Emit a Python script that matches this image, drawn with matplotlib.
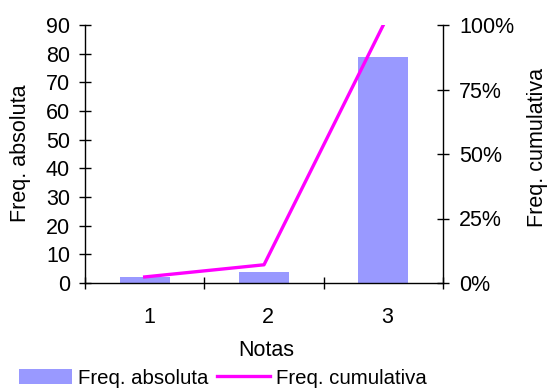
import matplotlib
matplotlib.use("Agg")
import matplotlib.pyplot as plt
from matplotlib.patches import Patch
from matplotlib.lines import Line2D
from matplotlib.ticker import FuncFormatter

plt.rcParams['font.family'] = ['Liberation Sans', 'DejaVu Sans']

notas = ["1", "2", "3"]
freq_absoluta = [2, 4, 79]
freq_cumulativa = [2.35, 7.06, 100.0]

bar_color = "#9999FF"
line_color = "#FF00FF"
fs = 15.5
legend_fs = 14.7

fig = plt.figure(figsize=(5.47, 3.88), dpi=100)
ax = fig.add_axes([85/547, 1 - 283/388, (443-85)/547, (283-25)/388])

x = list(range(len(notas)))
ax.bar(x, freq_absoluta, width=0.42, color=bar_color, zorder=2)
ax.set_xlim(-0.5, len(notas) - 0.5)
ax.set_ylim(0, 90)
ax.set_yticks(range(0, 91, 10))
# category boundaries carry the tick marks, labels sit between them
ax.set_xticks([i - 0.5 for i in range(len(notas) + 1)])
ax.set_xticklabels([])
ax.set_xticks([i + 0.035 for i in x], minor=True)
ax.set_xticklabels(notas, minor=True)
ax.tick_params(axis='x', which='major', direction='inout', length=8, width=1)
ax.tick_params(axis='x', which='minor', length=0, labelsize=fs, pad=17)
ax.tick_params(axis='y', direction='inout', length=8.5, width=1, labelsize=fs, pad=6.5)
for s in ('left', 'bottom'):
    ax.spines[s].set_linewidth(1)
ax.spines['top'].set_visible(False)
ax.spines['right'].set_visible(False)
ax.set_ylabel("Freq. absoluta", fontsize=fs)
ax.yaxis.set_label_coords(-0.152, 0.504)
ax.set_xlabel("Notas", fontsize=fs)
ax.xaxis.set_label_coords(0.506, -0.222)

ax2 = ax.twinx()
ax2.plot(x, freq_cumulativa, color=line_color, lw=2.4, zorder=3)
ax2.set_ylim(0, 100)
ax2.set_yticks([0, 25, 50, 75, 100])
ax2.yaxis.set_major_formatter(FuncFormatter(lambda v, p: f"{v:.0f}%"))
ax2.tick_params(axis='y', direction='inout', length=8.5, width=1, labelsize=fs, pad=7.5)
ax2.spines['right'].set_linewidth(1)
ax2.spines['top'].set_visible(False)
ax2.spines['left'].set_visible(False)
ax2.spines['bottom'].set_visible(False)
ax2.set_ylabel("Freq. cumulativa", fontsize=fs)
ax2.yaxis.set_label_coords(1.236, 0.527)
ax2.set_xlim(-0.5, len(notas) - 0.5)

handles = [Patch(facecolor=bar_color, edgecolor='none'),
           Line2D([0], [0], color=line_color, lw=2.4)]
fig.legend(handles, ["Freq. absoluta", "Freq. cumulativa"], loc='lower left',
           bbox_to_anchor=(5/547, -0.036), ncol=2, frameon=False, fontsize=legend_fs,
           handlelength=2.6, handleheight=0.75, handletextpad=0.3, columnspacing=0.4,
           borderpad=0.2)

fig.savefig("out.png", dpi=100)
